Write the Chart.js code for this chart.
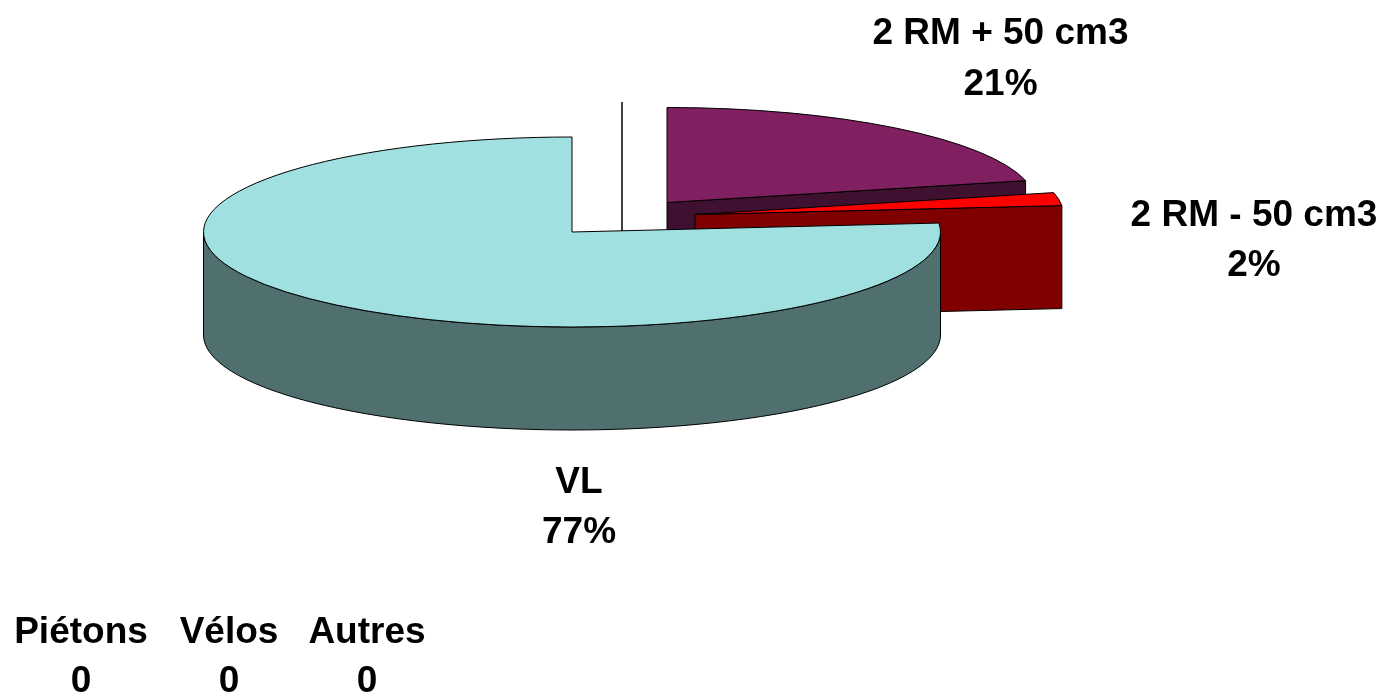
<!DOCTYPE html>
<html>
<head>
<meta charset="utf-8">
<style>
  html, body { margin: 0; padding: 0; background: #fff; overflow: hidden; }
  canvas { display: block; }
</style>
<script src="https://cdn.jsdelivr.net/npm/chart.js@4/dist/chart.umd.js"></script>
</head>
<body>
<canvas id="pie" width="1384" height="696"></canvas>
<script>
const categories = ["2 RM + 50 cm3", "2 RM - 50 cm3", "VL"];
const values = [21.3, 2.2, 76.5];
const percentLabels = ["21%", "2%", "77%"];
const zeroCategories = ["Piétons", "Vélos", "Autres"];
const zeroValues = ["0", "0", "0"];

const topColors = ["#802060", "#ff0000", "#a0e0e0"];
const wallColors = ["#401030", "#800000", "#507070"];

// pie look: flattened circle, pushed down walls, exploded slices
const CX = 572, CY = 232, RX = 368.5, RY = 95, DEPTH = 103;
const explode = [[95, -29.5], [123, -17.5], [0, 0]];

const FONT = 'bold 37px "Liberation Sans", Arial, sans-serif';
const sliceLabelPos = [[1000.5, 44, 95], [1254, 226, 276], [579, 493, 543]];
const zeroLabelPos = [81, 229, 367];

function outline(ctx) {
  ctx.strokeStyle = "#000";
  ctx.lineWidth = 1;
  ctx.stroke();
}

function drawWall(ctx, el, i, cx, cy) {
  const a0 = el.startAngle, a1 = el.endAngle;
  ctx.fillStyle = wallColors[i];
  // flat cut faces
  [[a0, Math.cos(a0) < -0.001], [a1, Math.cos(a1) > 0.001]].forEach(([a, visible]) => {
    if (!visible) return;
    const ex = cx + Math.cos(a) * RX, ey = cy + Math.sin(a) * RY;
    ctx.beginPath();
    ctx.moveTo(cx, cy);
    ctx.lineTo(ex, ey);
    ctx.lineTo(ex, ey + DEPTH);
    ctx.lineTo(cx, cy + DEPTH);
    ctx.closePath();
    ctx.fill();
    outline(ctx);
  });
  // round face, only the part looking at us
  const s = Math.max(a0, 0), e = Math.min(a1, Math.PI);
  if (e > s) {
    ctx.beginPath();
    ctx.ellipse(cx, cy, RX, RY, 0, s, e);
    ctx.ellipse(cx, cy + DEPTH, RX, RY, 0, e, s, true);
    ctx.closePath();
    ctx.fill();
    outline(ctx);
  }
}

const pie3d = {
  id: "pie3d",
  beforeDatasetDraw(chart, args) {
    const ctx = chart.ctx;
    const arcs = args.meta.data;
    arcs.forEach((el, i) => {
      const [dx, dy] = explode[i];
      const cx = el.x + dx, cy = el.y + dy;
      drawWall(ctx, el, i, cx, cy);
      // top face is the library's own arc, squashed
      ctx.save();
      ctx.translate(cx, cy);
      ctx.scale(1, RY / RX);
      ctx.translate(-el.x, -el.y);
      el.draw(ctx);
      ctx.restore();
      ctx.beginPath();
      ctx.moveTo(cx, cy);
      ctx.ellipse(cx, cy, RX, RY, 0, el.startAngle, el.endAngle);
      ctx.closePath();
      outline(ctx);
    });
    return false;
  },
  afterDraw(chart) {
    const ctx = chart.ctx;
    ctx.save();
    // leader line
    ctx.beginPath();
    ctx.moveTo(622, 102);
    ctx.lineTo(622, 231);
    ctx.strokeStyle = "#000";
    ctx.lineWidth = 1.5;
    ctx.stroke();
    ctx.fillStyle = "#000";
    ctx.font = FONT;
    ctx.textAlign = "center";
    categories.forEach((name, i) => {
      const [x, y1, y2] = sliceLabelPos[i];
      ctx.fillText(name, x, y1);
      ctx.fillText(percentLabels[i], x, y2);
    });
    zeroCategories.forEach((name, i) => {
      ctx.fillText(name, zeroLabelPos[i], 643);
      ctx.fillText(zeroValues[i], zeroLabelPos[i], 692);
    });
    ctx.restore();
  }
};

new Chart(document.getElementById("pie").getContext("2d"), {
  type: "pie",
  data: {
    labels: categories,
    datasets: [{
      data: values,
      backgroundColor: topColors,
      borderWidth: 0,
      radius: RX,
      clip: false
    }]
  },
  options: {
    responsive: false,
    animation: false,
    radius: RX,
    layout: { padding: { left: 0, top: 0, right: 1384 - 2 * CX, bottom: 696 - 2 * CY } },
    plugins: { legend: { display: false }, tooltip: { enabled: false } }
  },
  plugins: [pie3d]
});
</script>
</body>
</html>
